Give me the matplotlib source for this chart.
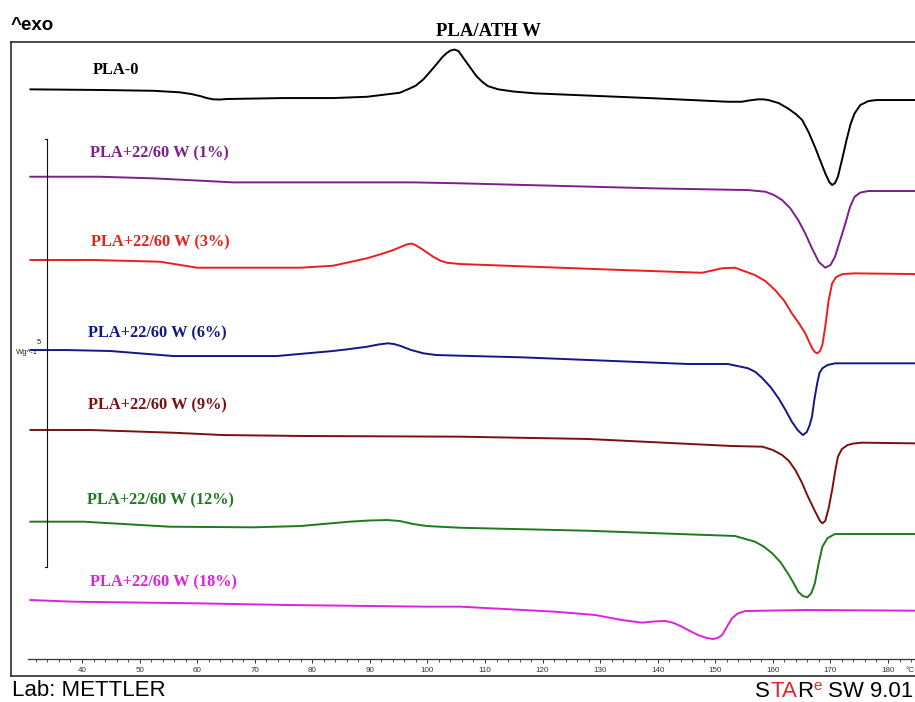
import matplotlib
matplotlib.use("Agg")
import matplotlib.pyplot as plt

# ---------------- data (temperature in °C, heat flow in W/g incl. stacking offsets) ----------------
T_PLA0 = [31, 43.7, 52.4, 57, 59, 60.5, 61.7, 62.8, 64, 65.2, 75, 83.6, 89.5, 95.2, 97, 98, 99.3,
          100.5, 101.7, 102.6, 103.4, 104, 104.7, 105.4, 106.5, 107.5, 108.5, 109.5, 110.5, 112.3,
          115, 118.7, 139.5, 152.2, 154.6, 156, 157.4, 158.3, 159.2, 161, 162.6, 164, 165.1, 166.2,
          167.3, 168.2, 169.1, 169.8, 170.3, 170.8, 171.3, 172, 172.8, 173.5, 174.2, 175.2, 176.6,
          178, 184.7]
HF_PLA0 = [6.854, 6.846, 6.837, 6.819, 6.799, 6.776, 6.752, 6.737, 6.735, 6.741, 6.752, 6.752, 6.767,
           6.814, 6.866, 6.898, 6.971, 7.062, 7.157, 7.231, 7.281, 7.307, 7.319, 7.301, 7.196, 7.103,
           7.009, 6.943, 6.892, 6.854, 6.828, 6.807, 6.749, 6.709, 6.709, 6.725, 6.737, 6.737, 6.729,
           6.694, 6.632, 6.565, 6.495, 6.355, 6.183, 6.028, 5.873, 5.771, 5.736, 5.759, 5.833, 6.028,
           6.262, 6.448, 6.573, 6.671, 6.717, 6.729, 6.729]

T_W1 = [31, 43, 52.4, 61.7, 66.2, 97.5, 105.7, 139.5, 155.7, 158.7, 160.2, 161.6, 163, 164.4, 165.6,
        166.8, 168, 169.1, 170, 170.8, 171.7, 172.6, 173.4, 174.2, 175.2, 176.6, 184.7]
HF_W1 = [5.833, 5.833, 5.814, 5.783, 5.767, 5.767, 5.756, 5.697, 5.677, 5.658, 5.619, 5.561, 5.467,
         5.327, 5.175, 4.996, 4.836, 4.770, 4.801, 4.898, 5.093, 5.288, 5.479, 5.599, 5.648, 5.666,
         5.666]

T_W3 = [31, 42, 53.6, 60, 77.9, 83.6, 89.5, 92, 94.1, 95.5, 96.5, 97.3, 97.9, 99.3, 101, 102.2, 103.4,
        105.7, 133.8, 147.7, 151.2, 153.4, 156.9, 158.7, 160.4, 162, 163.3, 164.5, 165.6, 166.8,
        167.3, 167.7, 168.2, 168.6, 169.1, 169.7, 170.3, 171, 172.1, 174.2, 184.7]
HF_W3 = [4.860, 4.860, 4.840, 4.770, 4.770, 4.793, 4.880, 4.930, 4.977, 5.017, 5.043, 5.052, 5.035,
         4.977, 4.898, 4.854, 4.828, 4.813, 4.743, 4.711, 4.763, 4.770, 4.684, 4.614, 4.509, 4.381,
         4.237, 4.124, 4.007, 3.832, 3.785, 3.770, 3.797, 3.867, 4.080, 4.392, 4.587, 4.661, 4.696,
         4.704, 4.696]

T_W6 = [31, 37.4, 44.9, 55.9, 73.8, 83.6, 86.5, 89.5, 91.5, 93.2, 94.2, 95.2, 97.2, 99.3, 101.5,
        105.7, 116.4, 145.3, 152.2, 155.7, 157, 158.2, 159.6, 161, 162.2, 163.3, 164.3, 165.2, 165.9,
        166.4, 166.8, 167.2, 167.7, 168.1, 168.6, 169.5, 170.8, 184.7]
HF_W6 = [3.808, 3.808, 3.797, 3.738, 3.738, 3.797, 3.820, 3.847, 3.873, 3.887, 3.878, 3.859, 3.808,
         3.770, 3.750, 3.742, 3.723, 3.645, 3.645, 3.595, 3.551, 3.478, 3.376, 3.244, 3.107, 2.971,
         2.874, 2.815, 2.850, 2.932, 3.029, 3.224, 3.419, 3.540, 3.595, 3.633, 3.653, 3.653]

T_W9 = [31, 41.4, 55.9, 64.5, 78.4, 105.7, 127.9, 152.9, 158.2, 160, 161.6, 162.8, 163.9, 165, 166.1,
        167.3, 168.2, 168.6, 169.1, 169.7, 170.3, 170.8, 171.3, 172, 173, 174, 175.5, 184.7]
HF_W9 = [2.874, 2.874, 2.842, 2.815, 2.804, 2.796, 2.769, 2.687, 2.679, 2.640, 2.582, 2.512, 2.407,
         2.266, 2.095, 1.928, 1.811, 1.784, 1.811, 1.963, 2.173, 2.383, 2.562, 2.652, 2.699, 2.716,
         2.726, 2.718]

T_W12 = [31, 40.2, 55.3, 69.8, 77.9, 86.5, 90, 93, 95.2, 97.5, 99.9, 105.7, 127.9, 145.3, 153.4,
         156.9, 158.4, 159.9, 161.3, 162.6, 163.6, 164.4, 165.2, 166, 166.7, 167.3, 167.9, 168.6,
         169.5, 170.8, 184.7]
HF_W12 = [1.803, 1.803, 1.744, 1.737, 1.752, 1.803, 1.817, 1.822, 1.811, 1.776, 1.752, 1.732, 1.697,
          1.655, 1.636, 1.569, 1.513, 1.433, 1.332, 1.200, 1.086, 0.985, 0.935, 0.919, 0.970, 1.083,
          1.297, 1.510, 1.612, 1.659, 1.659]

T_W18 = [31, 38.5, 60, 76.1, 99.9, 105.7, 122.2, 129.1, 133.8, 137.3, 139.3, 141.3, 142.8, 144.2,
         145.6, 147, 148.5, 149.6, 150.4, 151.2, 152, 152.9, 153.9, 155.2, 165.6, 184.7]
HF_W18 = [0.888, 0.868, 0.849, 0.829, 0.810, 0.810, 0.751, 0.713, 0.654, 0.623, 0.637, 0.643, 0.619,
          0.576, 0.526, 0.479, 0.444, 0.432, 0.444, 0.479, 0.572, 0.674, 0.730, 0.759, 0.771, 0.763]

SERIES_NAMES = ["PLA-0", "PLA+22/60 W (1%)", "PLA+22/60 W (3%)", "PLA+22/60 W (6%)",
                "PLA+22/60 W (9%)", "PLA+22/60 W (12%)", "PLA+22/60 W (18%)"]
SERIES_T = [T_PLA0, T_W1, T_W3, T_W6, T_W9, T_W12, T_W18]
SERIES_HF = [HF_PLA0, HF_W1, HF_W3, HF_W6, HF_W9, HF_W12, HF_W18]
COLORS = ["#000000", "#7E1E8C", "#EE1C1C", "#15158A", "#7A1010", "#1E7A1E", "#E020E0"]

TICK_MAJOR = list(range(40, 190, 10))
TICK_MINOR = list(range(32, 186, 2))
SCALE_BAR_WG = 5
TITLE = "PLA/ATH W"

# ---------------- layout ----------------
W, H = 915, 702
fig = plt.figure(figsize=(W / 100, H / 100), dpi=100)
fig.patch.set_facecolor("white")


def fx(x):
    return x / W


def fy(y):
    return 1 - y / H


# main frame axes
ax = fig.add_axes([fx(11), fy(676), fx(920 - 11), (676 - 42) / H])
ax.set_xlim(27.67, 185.56)
ax.set_ylim(0, 7.407)
ax.set_xticks([])
ax.set_yticks([])
for s in ax.spines.values():
    s.set_linewidth(1.1)
    s.set_color("#1a1a1a")

for t, hf, c in zip(SERIES_T, SERIES_HF, COLORS):
    ax.plot(t, hf, color=c, lw=1.4, solid_joinstyle="round", solid_capstyle="round")

# scale bar (5 W/g)
bar_T = 34.0
bar_bottom = 1.273
ax.plot([bar_T, bar_T], [bar_bottom, bar_bottom + SCALE_BAR_WG], color="#111111", lw=0.8)
ax.plot([bar_T - 0.45, bar_T], [bar_bottom, bar_bottom], color="#111111", lw=0.8)
ax.plot([bar_T - 0.45, bar_T], [bar_bottom + SCALE_BAR_WG] * 2, color="#111111", lw=0.8)
fig.text(fx(39), fy(342), str(SCALE_BAR_WG), fontsize=5.5, family="Liberation Sans",
         ha="center", va="center", color="#222222")
fig.text(fx(38), fy(353), "Wg^-1", fontsize=5.5, family="Liberation Sans",
         ha="right", va="center", color="#222222")

# inner temperature axis
ax2 = fig.add_axes([fx(28), fy(659), fx(920 - 28), 0.0005])
ax2.set_xlim(30.62, 185.56)
ax2.set_ylim(0, 1)
ax2.patch.set_alpha(0)
for k in ["top", "left", "right"]:
    ax2.spines[k].set_visible(False)
ax2.spines["bottom"].set_linewidth(0.9)
ax2.spines["bottom"].set_color("#333333")
ax2.set_yticks([])
ax2.set_xticks(TICK_MAJOR)
ax2.set_xticklabels([str(v) for v in TICK_MAJOR])
ax2.set_xticks(TICK_MINOR, minor=True)
ax2.tick_params(axis="x", which="major", direction="out", length=3.2, width=0.7,
                colors="#333333", labelsize=5.8, pad=2.2)
ax2.tick_params(axis="x", which="minor", direction="out", length=2.0, width=0.6, colors="#333333")
for lab in ax2.get_xticklabels():
    lab.set_family("Liberation Sans")
fig.text(fx(906), fy(670), "°C", fontsize=5.8, family="Liberation Sans", ha="left", va="center",
         color="#333333")

# curve labels
label_pos = [(93, 70), (90, 153), (91, 242), (88, 333), (88, 405), (87, 500), (90, 582)]
for name, (lx, ly), c in zip(SERIES_NAMES, label_pos, COLORS):
    fig.text(fx(lx), fy(ly), name, fontsize=11.8, family="Liberation Serif", weight="bold",
             color=c, ha="left", va="center")

# title and header
fig.text(fx(488), fy(32), TITLE, fontsize=13.5, family="Liberation Serif", weight="bold",
         ha="center", va="center")
fig.text(fx(11), fy(25), "^exo", fontsize=13.5, family="Liberation Sans", weight="bold",
         ha="left", va="center")

# footer
fig.text(fx(12), fy(701), "Lab: METTLER", fontsize=16, family="Liberation Sans", ha="left",
         va="bottom")

renderer = fig.canvas.get_renderer()
red = "#E8202A"
x_right = 913
pieces = [("SW 9.01", "black", 16, 697, 6), ("e", red, 11, 690, 0), ("R", "black", 16, 697, 0),
          ("TA", red, 16, 697, 0), ("S", "black", 16, 697, 0)]
for txt, col, size, base, gap in pieces:
    t = fig.text(fx(x_right), fy(base), txt, fontsize=size, family="Liberation Sans", color=col,
                 ha="right", va="baseline")
    bb = t.get_window_extent(renderer=renderer)
    x_right = bb.x0 - gap

fig.savefig("out.png", dpi=100, facecolor="white")
